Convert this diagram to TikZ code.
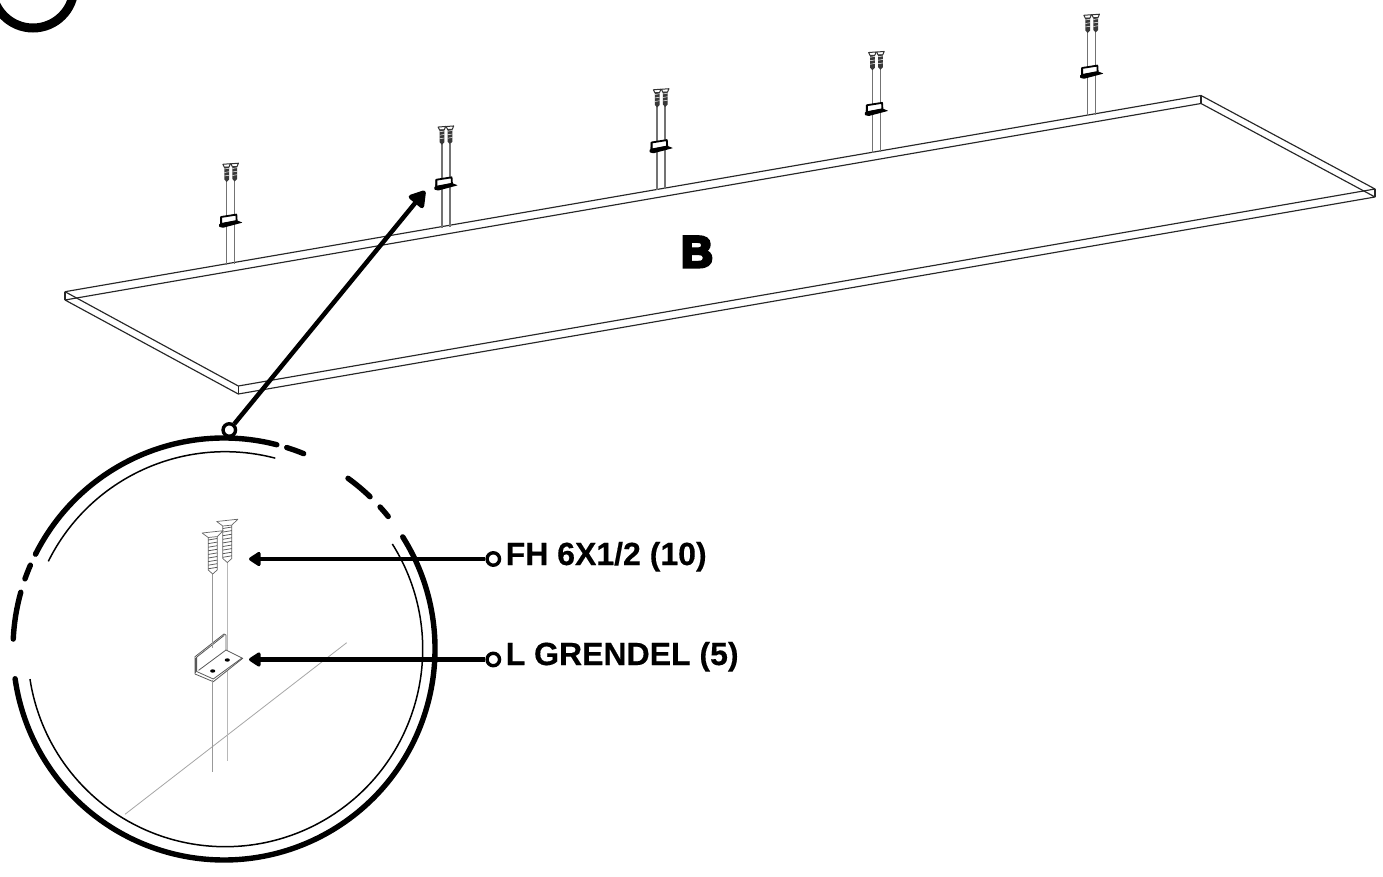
\documentclass[tikz,border=0pt]{standalone}
\usepackage{fontspec}
\setmainfont{Liberation Sans}[BoldFeatures={FakeBold=0.4}]
\newfontfamily\heavyfont[FakeBold=7]{Liberation Sans Bold}
\usetikzlibrary{arrows.meta}
\tikzset{
  edge/.style={draw=black!85,line width=1.15pt,line join=round},
  ring/.style={circle,draw=black,line width=3.4pt,fill=white,minimum size=12.5pt,inner sep=0pt},
  leader/.style={line width=4.5pt,draw=black,-{Triangle[length=13pt,width=16pt,round]}},
  bigleader/.style={line width=4.5pt,draw=black,-{Triangle[length=18pt,width=21pt,round]}},
  label/.style={anchor=base west,inner sep=0pt,font=\fontsize{32}{32}\selectfont\bfseries},
  thickarc/.style={line width=5.4pt,line cap=round,draw=black},
  thinarc/.style={line width=1.5pt,draw=black},
  threadline/.style={draw=black!65,line width=.75pt},
  pics/bigscrew/.style={code={
    \fill[white] (-11,1) -- (-4.6,5.5) -- (-4.6,38) -- (0,42) -- (4.6,38) -- (4.6,4.6) -- (10.6,-1.3) -- cycle;
    \draw[draw=black!60,line width=.7pt,line join=round] (-10.6,1) -- (10.6,-1.3) -- (4.5,4.6) -- (-4.5,5.5) -- cycle;
    \draw[draw=black!60,line width=.7pt] (-4.5,5.5) -- (-4.5,38) -- (0,42) -- (4.5,38) -- (4.5,4.6);
    \foreach \t in {8,11.6,...,38}{\draw[threadline] (-4.5,\t) -- (4.5,\t-1.5);}
  }},
  pics/tinyscrew/.style={code={
    \draw[draw=black!80,line width=1pt,line join=round] (-3.8,.3) -- (3.8,-.3) -- (2.3,3) -- (-2.3,3.3) -- cycle;
    \fill[black!78] (-2.4,3) -- (2.4,2.8) -- (2.4,15.5) -- (0,18) -- (-2.4,15.5) -- cycle;
    \foreach \t in {5,8.5,12}{\draw[white,line width=.5pt] (-2.4,\t) -- (2.4,\t-.8);}
  }},
  pics/smallset/.style={code={
    \draw[draw=black!55,line width=1.5pt] (0,17) -- (0,101);
    \draw[draw=black!55,line width=1.5pt] (8,17) -- (8,100);
    \pic at (0,0) {tinyscrew};
    \pic at (8,-.5) {tinyscrew};
    \draw[draw=black,line width=1.8pt,line join=round,fill=white] (-5.6,53) -- (9.6,50.6) -- (10,57) -- (-5.6,60) -- cycle;
    \draw[draw=black,line width=1.3pt] (-5.6,53) -- (-6,62);
    \fill[black,rounded corners=.5pt] (-7.6,60) -- (10.4,56.4) -- (15.8,58.6) -- (-3.8,63.8) -- (-7.6,62.8) -- cycle;
  }},
}
\begin{document}
\begin{tikzpicture}[x=1pt,y=-1pt]
\fill[white,use as bounding box] (0,0) rectangle (1383,877);

% corner circle fragment
\begin{scope}
\clip (0,0) rectangle (1383,877);
\draw[line width=9pt,draw=black] (33,-13) circle[radius=41pt];
\end{scope}

% panel
\coordinate (pa) at (65,291.7);
\coordinate (pb) at (65,300);
\coordinate (pc) at (238.3,386);
\coordinate (pd) at (238.3,394);
\coordinate (pe) at (1375,189);
\coordinate (pf) at (1375,197);
\coordinate (pg) at (1201,95.5);
\coordinate (ph) at (1201,103.5);
\draw[edge] (pa) -- (pg) -- (pe) -- (pc) -- cycle;
\draw[edge] (pb) -- (ph) -- (pf) -- (pd) -- (pb);
\draw[edge] (pa) -- (pb) (pc) -- (pd) (pe) -- (pf) (pg) -- (ph);

% hardware along the back edge
\foreach \i in {0,...,4}{
  \pic at ({226.7+215.25*\i},{164-37.25*\i}) {smallset};
}

% letter
\node[anchor=base,inner sep=0pt,font=\heavyfont\fontsize{44}{44}\selectfont] (letter) at (697,267) {B};

% detail circle
\coordinate (oc) at (224,649);
\coordinate (ic) at (225.2,649.2);
\draw[thickarc] (oc) ++(75.5:211pt) arc[start angle=75.5,end angle=153.3,radius=211pt];
\draw[thickarc] (oc) ++(72.7:211pt) arc[start angle=72.7,end angle=67.8,radius=211pt];
\draw[thickarc] (oc) ++(54:211pt) arc[start angle=54,end angle=46.2,radius=211pt];
\draw[thickarc] (oc) ++(42.3:211pt) arc[start angle=42.3,end angle=38.9,radius=211pt];
\draw[thickarc] (oc) ++(32.1:211pt) arc[start angle=32.1,end angle=-171.9,radius=211pt];
\draw[thickarc] (oc) ++(156.6:211pt) arc[start angle=156.6,end angle=160.6,radius=211pt];
\draw[thickarc] (oc) ++(164.4:211pt) arc[start angle=164.4,end angle=177.3,radius=211pt];
\draw[thinarc] (ic) ++(75.3:197.5pt) arc[start angle=75.3,end angle=153.6,radius=197.5pt];
\draw[thinarc] (ic) ++(32.2:197.5pt) arc[start angle=32.2,end angle=-171.3,radius=197.5pt];

% detail contents
\draw[draw=black!35,line width=.8pt] (346.7,642.7) -- (125,814.3);
\draw[draw=black!40,line width=1pt] (212.7,572) -- (212.7,771.7);
\draw[draw=black!28,line width=1.4pt] (227.3,561) -- (227.3,760.5);
\pic at (227.3,520.5) {bigscrew};
\pic at (212.7,532) {bigscrew};
% bracket
\fill[white] (195,656.7) -- (224,634) -- (226,635) -- (226,650) -- (242.7,658.3) -- (213.3,681.7) -- (195,674) -- cycle;
\begin{scope}[draw=black!65,line width=.8pt,line join=round]
\draw (195,656.7) -- (224,634) -- (226,635) -- (226,650) -- (242.7,658.3) -- (213.3,681.7) -- (195,674) -- cycle;
\draw (196.6,657.2) -- (224.2,635.4);
\draw (196.6,657.2) -- (196.6,671.5) -- (213.3,679) -- (241.7,658.2);
\draw (198.5,670.4) -- (226,650);
\draw (195.7,658) -- (195.7,673);
\end{scope}
\draw[draw=black!40,line width=1pt] (212.7,630) -- (212.7,648);
\draw[draw=black!40,line width=1pt] (212.7,680) -- (212.7,700);
\fill[black] (212.7,671) ellipse[x radius=2.6pt,y radius=1.7pt];
\fill[black] (227.3,660) ellipse[x radius=2.6pt,y radius=1.7pt];

% leaders
\node[ring] (r1) at (229.3,430) {};
\node[ring] (r2) at (493.3,559) {};
\node[ring] (r3) at (493.3,659.5) {};
\coordinate (t1) at (425,191);
\coordinate (t2) at (249,559);
\coordinate (t3) at (249,659.5);
\draw[bigleader] (r1) -- (t1);
\draw[leader] (r2) -- (t2);
\draw[leader] (r3) -- (t3);
\node[label] (l1) at (505.5,565) {FH 6X1/2 (10)};
\node[label] (l2) at (505.5,665) {L GRENDEL (5)};
\end{tikzpicture}
\end{document}
